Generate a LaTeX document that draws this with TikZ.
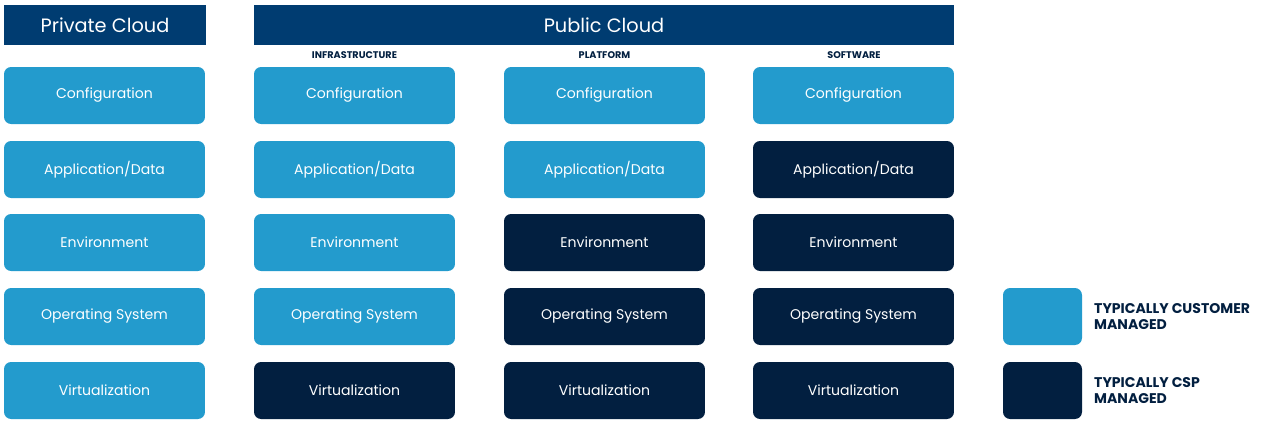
\documentclass[tikz,border=0pt]{standalone}
\usepackage{fontspec}
\setmainfont{Poppins}
\usetikzlibrary{positioning}
\definecolor{headblue}{HTML}{003C71}
\definecolor{custblue}{HTML}{239BCD}
\definecolor{cspblue}{HTML}{021F40}
\tikzset{
  cell/.style={rounded corners=4pt, minimum width=4.02cm, minimum height=1.14cm, inner sep=0pt, text=white, font=\fontsize{8}{9}\selectfont},
  cust/.style={cell, fill=custblue},
  csp/.style={cell, fill=cspblue},
  head/.style={fill=headblue, text=white, inner sep=0pt, minimum height=0.8cm, font=\fontsize{11}{12}\selectfont},
  sub/.style={text=cspblue, font=\fontsize{5.5}{6}\selectfont\bfseries},
  legtext/.style={text=cspblue, align=left, anchor=west, font=\fontsize{8}{9.5}\selectfont\bfseries}
}
\begin{document}
\begin{tikzpicture}[x=0.02cm, y=-0.02cm]
  \useasboundingbox (0,0) rectangle (1271,424);

  \node[head, minimum width=4.04cm] (private) at (105,25) {Private Cloud};
  \node[head, minimum width=14cm] (public) at (604,25) {Public Cloud};
  \node[sub] (iaas) at (354.5,55) {INFRASTRUCTURE};
  \node[sub] (paas) at (604.5,55) {PLATFORM};
  \node[sub] (saas) at (854,55) {SOFTWARE};

  % private cloud
  \node[cust] (pc1) at (104.5,95.5) {Configuration};
  \node[cust] (pc2) at (104.5,169.5) {Application/Data};
  \node[cust] (pc3) at (104.5,242.5) {Environment};
  \node[cust] (pc4) at (104.5,316.5) {Operating System};
  \node[cust] (pc5) at (104.5,390.5) {Virtualization};

  % infrastructure
  \node[cust] (ia1) at (354.5,95.5) {Configuration};
  \node[cust] (ia2) at (354.5,169.5) {Application/Data};
  \node[cust] (ia3) at (354.5,242.5) {Environment};
  \node[cust] (ia4) at (354.5,316.5) {Operating System};
  \node[csp]  (ia5) at (354.5,390.5) {Virtualization};

  % platform
  \node[cust] (pa1) at (604.5,95.5) {Configuration};
  \node[cust] (pa2) at (604.5,169.5) {Application/Data};
  \node[csp]  (pa3) at (604.5,242.5) {Environment};
  \node[csp]  (pa4) at (604.5,316.5) {Operating System};
  \node[csp]  (pa5) at (604.5,390.5) {Virtualization};

  % software
  \node[cust] (sa1) at (853.5,95.5) {Configuration};
  \node[csp]  (sa2) at (853.5,169.5) {Application/Data};
  \node[csp]  (sa3) at (853.5,242.5) {Environment};
  \node[csp]  (sa4) at (853.5,316.5) {Operating System};
  \node[csp]  (sa5) at (853.5,390.5) {Virtualization};

  % legend
  \node[cust, minimum width=1.58cm] (legcust) at (1042.5,316.5) {};
  \node[csp, minimum width=1.58cm] (legcsp) at (1042.5,390.5) {};
  \node[legtext] (custtext) at (1088,316.5) {TYPICALLY CUSTOMER\\MANAGED};
  \node[legtext] (csptext) at (1088,390.5) {TYPICALLY CSP\\MANAGED};
\end{tikzpicture}
\end{document}
